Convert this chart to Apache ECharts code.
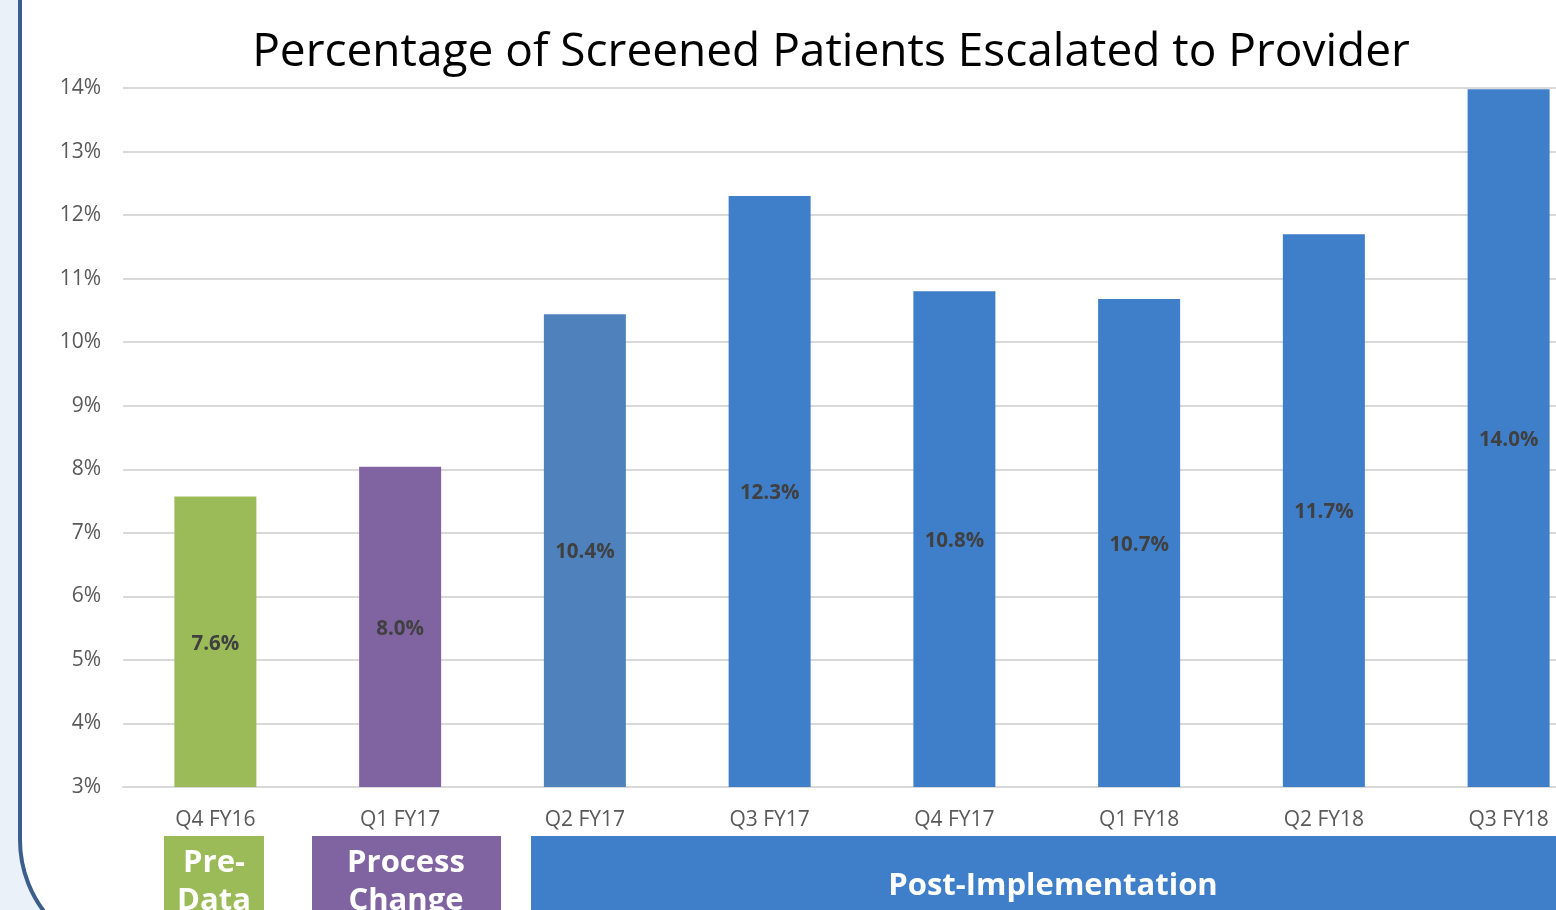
<!DOCTYPE html>
<html><head><meta charset="utf-8">
<script src="https://cdn.jsdelivr.net/npm/echarts@6/dist/echarts.min.js"></script>
<style>html,body{margin:0;padding:0;background:#EAF1F9;}#c{width:1556px;height:910px;}</style>
</head><body><div id="c"></div>
<script>
const categories = ['Q4 FY16','Q1 FY17','Q2 FY17','Q3 FY17','Q4 FY17','Q1 FY18','Q2 FY18','Q3 FY18'];
const values = [7.57, 8.04, 10.44, 12.3, 10.8, 10.68, 11.7, 13.98];
const barColors = ['#9BBB59','#8064A2','#4F81BD','#3F7EC9','#3F7EC9','#3F7EC9','#3F7EC9','#3F7EC9'];
const phaseLabels = ['Pre-\nData','Process\nChange','Post-Implementation'];
const phaseColors = ['#9BBB59','#8064A2','#3F7EC9'];
const yTicks = {min:3, max:14, interval:1};
const titleText = 'Percentage of Screened Patients Escalated to Provider';

const FONT = '"Open Sans", "Noto Sans", sans-serif';
const chart = echarts.init(document.getElementById('c'));
chart.setOption({
  backgroundColor: '#EAF1F9',
  animation: false,
  title: {text: titleText, left: 826, top: 25, textAlign: 'center',
    textStyle: {fontFamily: FONT, fontSize: 46, fontWeight: 'normal', color: '#000'}},
  grid: {left: 123, width: 1478, top: 88, height: 699, containLabel: false, outerBoundsMode: 'none'},
  xAxis: {type: 'category', data: categories,
    axisLine: {lineStyle: {color: '#D9D9D9', width: 2}}, axisTick: {show: false},
    axisLabel: {color: '#595959', fontFamily: FONT, fontSize: 21, margin: 23}},
  yAxis: {type: 'value', min: yTicks.min, max: yTicks.max, interval: yTicks.interval,
    axisLine: {show: false}, axisTick: {show: false},
    splitLine: {lineStyle: {color: '#D9D9D9', width: 2}},
    axisLabel: {formatter: '{value}%', color: '#595959', fontFamily: FONT, fontSize: 21, margin: 22}},
  series: [{type: 'bar', barWidth: 82,
    data: values.map((v,i)=>({value: v, itemStyle: {color: barColors[i]}})),
    label: {show: true, position: 'inside', offset: [0, 2], formatter: p => p.value.toFixed(1) + '%',
      color: '#404040', fontFamily: FONT, fontWeight: 'bold', fontSize: 20.5}}],
  graphic: [
    {type: 'rect', z: -10, shape: {x: 20, y: -200, width: 1700, height: 1158, r: 118},
      style: {fill: '#FFFFFF', stroke: '#3B5E8C', lineWidth: 4}, silent: true},
    {type: 'rect', z: 10, shape: {x: 164, y: 836, width: 100, height: 120}, style: {fill: phaseColors[0]}},
    {type: 'text', z: 11, x: 214, y: 844, style: {text: phaseLabels[0], fill: '#fff', font: 'bold 31px ' + FONT, align: 'center', verticalAlign: 'top', lineHeight: 38}},
    {type: 'rect', z: 10, shape: {x: 312, y: 836, width: 189, height: 120}, style: {fill: phaseColors[1]}},
    {type: 'text', z: 11, x: 406, y: 844, style: {text: phaseLabels[1], fill: '#fff', font: 'bold 31px ' + FONT, align: 'center', verticalAlign: 'top', lineHeight: 38}},
    {type: 'rect', z: 10, shape: {x: 531, y: 836, width: 1100, height: 120}, style: {fill: phaseColors[2]}},
    {type: 'text', z: 11, x: 1053, y: 886, style: {text: phaseLabels[2], fill: '#fff', font: 'bold 31px ' + FONT, align: 'center', verticalAlign: 'middle'}}
  ]
});
</script></body></html>
